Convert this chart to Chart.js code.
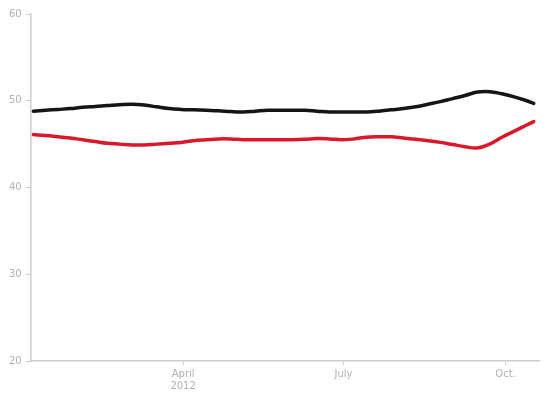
<!DOCTYPE html>
<html>
<head>
<meta charset="utf-8">
<script src="https://cdn.jsdelivr.net/npm/chart.js@4"></script>
<style>
  body { margin: 0; background: #fff; }
  #wrap { width: 550px; height: 395px; }
</style>
</head>
<body>
<div id="wrap"><canvas id="chart" width="550" height="395"></canvas></div>
<script>
const dates = [
  '2012-01-07', '2012-01-14', '2012-01-21', '2012-01-28', '2012-02-04', '2012-02-11',
  '2012-02-18', '2012-02-25', '2012-03-03', '2012-03-10', '2012-03-17', '2012-03-24',
  '2012-03-31', '2012-04-07', '2012-04-14', '2012-04-21', '2012-04-28', '2012-05-05',
  '2012-05-12', '2012-05-19', '2012-05-26', '2012-06-02', '2012-06-09', '2012-06-16',
  '2012-06-23', '2012-06-30', '2012-07-07', '2012-07-14', '2012-07-21', '2012-07-28',
  '2012-08-04', '2012-08-11', '2012-08-18', '2012-08-25', '2012-09-01', '2012-09-08',
  '2012-09-15', '2012-09-22', '2012-09-29', '2012-10-06', '2012-10-13', '2012-10-17'
];
const blackSeries = [
  48.8, 48.9, 49.0, 49.1, 49.25, 49.35, 49.45, 49.55, 49.6, 49.5, 49.3, 49.1,
  49.0, 48.95, 48.9, 48.85, 48.75, 48.7, 48.8, 48.9, 48.9, 48.9, 48.9, 48.8,
  48.7, 48.7, 48.7, 48.7, 48.8, 48.95, 49.1, 49.3, 49.6, 49.9, 50.25, 50.6,
  51.0, 51.05, 50.8, 50.45, 50.0, 49.7
];
const redSeries = [
  46.1, 46.0, 45.85, 45.7, 45.5, 45.3, 45.1, 45.0, 44.9, 44.9, 45.0, 45.1,
  45.2, 45.4, 45.5, 45.6, 45.6, 45.5, 45.5, 45.5, 45.5, 45.5, 45.55, 45.65,
  45.6, 45.5, 45.6, 45.8, 45.85, 45.85, 45.7, 45.55, 45.4, 45.2, 44.95, 44.7,
  44.55, 45.0, 45.8, 46.5, 47.2, 47.6
];
const yTicks = [20, 30, 40, 50, 60];
const xTickDates = ['2012-04-01', '2012-07-01', '2012-10-01'];
const xTickLabels = [['April', '2012'], 'July', 'Oct.'];

// day number since Jan 1 2012
function dayOf(s) {
  return (Date.parse(s + 'T00:00:00Z') - Date.parse('2012-01-01T00:00:00Z')) / 86400000;
}
const xTickDays = xTickDates.map(dayOf);

const toPoints = vals => vals.map((v, i) => ({ x: dayOf(dates[i]), y: v }));

const ctx = document.getElementById('chart').getContext('2d');
new Chart(ctx, {
  type: 'line',
  data: {
    datasets: [
      { data: toPoints(blackSeries), borderColor: '#151515', borderWidth: 3.5 },
      { data: toPoints(redSeries), borderColor: '#d9192b', borderWidth: 3.5 }
    ]
  },
  options: {
    responsive: false,
    animation: false,
    layout: { padding: { top: 14, right: 11, left: 5, bottom: 0 } },
    elements: { point: { radius: 0 }, line: { tension: 0.4, borderCapStyle: 'round' } },
    plugins: { legend: { display: false }, tooltip: { enabled: false } },
    scales: {
      x: {
        type: 'linear',
        min: 4.5,
        max: 293,
        afterBuildTicks: axis => { axis.ticks = xTickDays.map(v => ({ value: v })); },
        ticks: {
          color: '#b0b0b8',
          font: { family: 'DejaVu Sans', size: 10 },
          padding: 3,
          maxRotation: 0,
          autoSkip: false,
          callback: v => xTickLabels[xTickDays.indexOf(v)]
        },
        grid: { drawOnChartArea: false, tickLength: 4, color: '#c4d4e4' },
        border: { color: '#cccccc', width: 1.5 }
      },
      y: {
        min: 20,
        max: 60,
        afterBuildTicks: axis => { axis.ticks = yTicks.map(v => ({ value: v })); },
        ticks: {
          color: '#b0b0b8',
          font: { family: 'DejaVu Sans', size: 10 },
          padding: 4
        },
        grid: { drawOnChartArea: false, tickLength: 5, color: '#c4d4e4' },
        border: { color: '#cccccc', width: 1.5 }
      }
    }
  }
});
</script>
</body>
</html>
